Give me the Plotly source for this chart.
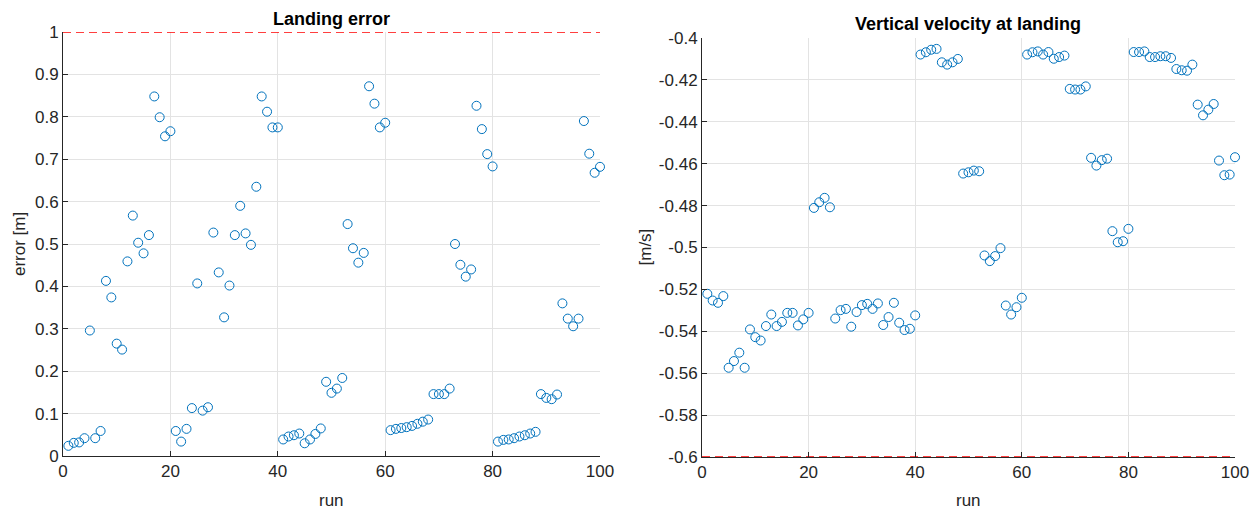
import plotly.graph_objects as go

runs = list(range(1, 101))

landing_error = [
    0.024, 0.031, 0.032, 0.042, 0.296, 0.042, 0.059, 0.413, 0.374, 0.265,
    0.251, 0.459, 0.567, 0.503, 0.478, 0.521, 0.848, 0.799, 0.754, 0.766,
    0.059, 0.034, 0.064, 0.113, 0.407, 0.107, 0.115, 0.527, 0.433, 0.327,
    0.402, 0.521, 0.590, 0.525, 0.498, 0.635, 0.848, 0.812, 0.775, 0.775,
    0.039, 0.046, 0.049, 0.053, 0.030, 0.039, 0.052, 0.065, 0.175, 0.149,
    0.159, 0.184, 0.547, 0.490, 0.456, 0.479, 0.872, 0.831, 0.775, 0.786,
    0.061, 0.064, 0.066, 0.068, 0.071, 0.076, 0.081, 0.086, 0.146, 0.146,
    0.146, 0.159, 0.500, 0.451, 0.423, 0.440, 0.826, 0.771, 0.712, 0.683,
    0.034, 0.038, 0.039, 0.042, 0.046, 0.049, 0.053, 0.057, 0.146, 0.137,
    0.134, 0.145, 0.360, 0.324, 0.306, 0.324, 0.790, 0.713, 0.668, 0.682,
]

vertical_velocity = [
    -0.5221, -0.5253, -0.5264, -0.5232, -0.5574, -0.5542, -0.5502, -0.5574, -0.5391, -0.5428,
    -0.5444, -0.5375, -0.5320, -0.5375, -0.5355, -0.5312, -0.5312, -0.5372, -0.5343, -0.5312,
    -0.4811, -0.4784, -0.4763, -0.4808, -0.5339, -0.5299, -0.5293, -0.5378, -0.5308, -0.5275,
    -0.5269, -0.5293, -0.5267, -0.5370, -0.5332, -0.5264, -0.5359, -0.5394, -0.5388, -0.5324,
    -0.4079, -0.4068, -0.4056, -0.4052, -0.4116, -0.4127, -0.4116, -0.4100, -0.4647, -0.4641,
    -0.4633, -0.4636, -0.5038, -0.5065, -0.5041, -0.5003, -0.5277, -0.5320, -0.5285, -0.5240,
    -0.4079, -0.4068, -0.4064, -0.4079, -0.4067, -0.4099, -0.4091, -0.4084, -0.4243, -0.4246,
    -0.4246, -0.4231, -0.4572, -0.4609, -0.4583, -0.4576, -0.4922, -0.4975, -0.4970, -0.4911,
    -0.4067, -0.4067, -0.4064, -0.4091, -0.4091, -0.4087, -0.4087, -0.4095, -0.4148, -0.4154,
    -0.4156, -0.4127, -0.4318, -0.4369, -0.4342, -0.4315, -0.4585, -0.4655, -0.4652, -0.4569,
]

error_limit = 1.0
velocity_limit = -0.6

x_ticks = [0, 20, 40, 60, 80, 100]
left_yticks = [0, 0.1, 0.2, 0.3, 0.4, 0.5, 0.6, 0.7, 0.8, 0.9, 1]
left_yticktext = ["0", "0.1", "0.2", "0.3", "0.4", "0.5", "0.6", "0.7", "0.8", "0.9", "1"]
right_yticks = [-0.6, -0.58, -0.56, -0.54, -0.52, -0.5, -0.48, -0.46, -0.44, -0.42, -0.4]
right_yticktext = ["-0.6", "-0.58", "-0.56", "-0.54", "-0.52", "-0.5", "-0.48", "-0.46", "-0.44", "-0.42", "-0.4"]

W, H = 1257, 509
BLUE = "#0072BD"
AX = "#262626"
GRID = "#E3E3E3"
FONT = "Liberation Sans, Arial, Helvetica, sans-serif"
FS = 17

fig = go.Figure()

marker = dict(symbol="circle-open", size=9, color=BLUE, line=dict(width=1, color=BLUE))
limit_line = dict(color="#FF0000", width=1.5, dash="8px,5px")

fig.add_trace(go.Scatter(x=runs, y=landing_error, mode="markers", marker=marker,
                         xaxis="x", yaxis="y", showlegend=False, cliponaxis=False))
fig.add_trace(go.Scatter(x=[0, 100], y=[error_limit, error_limit], mode="lines", line=limit_line,
                         xaxis="x", yaxis="y", showlegend=False, cliponaxis=False))
fig.add_trace(go.Scatter(x=runs, y=vertical_velocity, mode="markers", marker=marker,
                         xaxis="x2", yaxis="y2", showlegend=False, cliponaxis=False))
fig.add_trace(go.Scatter(x=[0, 100], y=[velocity_limit, velocity_limit], mode="lines", line=limit_line,
                         xaxis="x2", yaxis="y2", showlegend=False, cliponaxis=False))


def common():
    return dict(showline=True, linecolor=AX, linewidth=1, mirror=False,
                ticks="inside", ticklen=5, tickcolor=AX, automargin=False,
                showgrid=True, gridcolor=GRID, gridwidth=1, zeroline=False,
                tickfont=dict(family=FONT, size=FS, color=AX))


def xaxis(dom, anchor):
    d = common()
    d.update(domain=dom, anchor=anchor, range=[0, 100], tickvals=x_ticks)
    return d


def yaxis(dom, anchor, rng, tv, tt):
    d = common()
    d.update(domain=dom, anchor=anchor, range=rng, tickvals=tv, ticktext=tt)
    return d


L = (63, 600, 32, 456)      # left, right, top, bottom in px
R = (702, 1235, 38, 457)


def px_x(v):
    return v / W


def px_y(v):
    return 1 - v / H


def ann(text, x, y, size=FS, bold=False, angle=0, color=AX, xanchor="center", yanchor="middle"):
    return dict(text=f"<b>{text}</b>" if bold else text, x=px_x(x), y=px_y(y),
                xref="paper", yref="paper", showarrow=False, textangle=angle,
                xanchor=xanchor, yanchor=yanchor,
                font=dict(family=FONT, size=size, color=color))


fig.update_layout(
    width=W, height=H,
    margin=dict(l=0, r=0, t=0, b=0, autoexpand=False),
    paper_bgcolor="white", plot_bgcolor="white",
    xaxis=xaxis([px_x(L[0]), px_x(L[1])], "y"),
    yaxis=yaxis([px_y(L[3]), px_y(L[2])], "x", [0, 1], left_yticks, left_yticktext),
    xaxis2=xaxis([px_x(R[0]), px_x(R[1])], "y2"),
    yaxis2=yaxis([px_y(R[3]), px_y(R[2])], "x2", [-0.6, -0.4], right_yticks, right_yticktext),
    annotations=[
        ann("Landing error", (L[0] + L[1]) / 2, 18.5, size=18, bold=True, color="black"),
        ann("Vertical velocity at landing", (R[0] + R[1]) / 2, 24, size=18, bold=True, color="black"),
        ann("error [m]", 20, (L[2] + L[3]) / 2, angle=-90),
        ann("[m/s]", 645, (R[2] + R[3]) / 2, angle=-90),
        ann("run", (L[0] + L[1]) / 2, 500),
        ann("run", (R[0] + R[1]) / 2, 500),
    ],
)

fig.write_html("out.html")
